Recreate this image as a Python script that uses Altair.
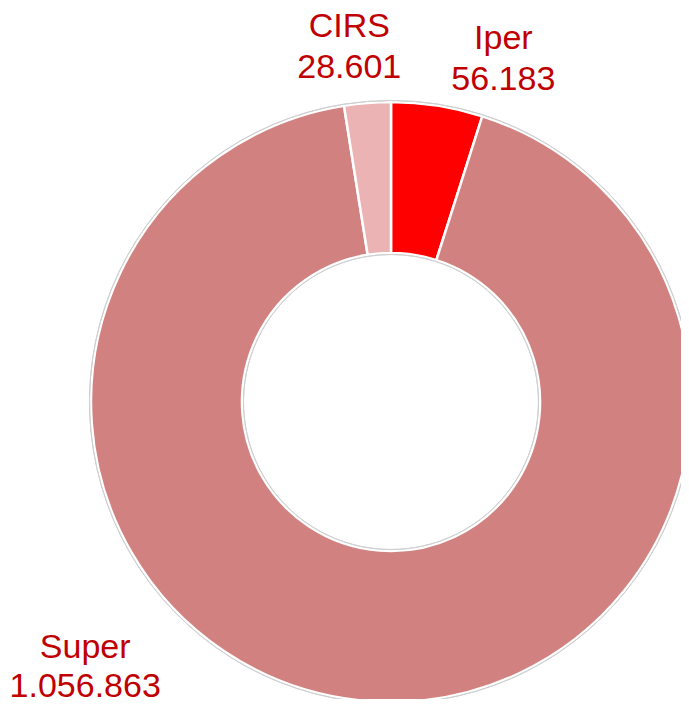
import altair as alt
import pandas as pd

categories = ["Iper", "Super", "CIRS"]
values = [56183, 1056863, 28601]
value_labels = ["56.183", "1.056.863", "28.601"]
colors = ["#FF0000", "#D18280", "#EBB3B3"]

df = pd.DataFrame({
    "cat": categories,
    "val": values,
    "order": list(range(len(categories))),
    "label": [f"{c}\n{v}" for c, v in zip(categories, value_labels)],
})

CX, CY = 383, 394
R_OUT, R_IN = 300, 149

base = alt.Chart(df).encode(
    theta=alt.Theta("val:Q", stack=True),
    order=alt.Order("order:Q"),
    x=alt.value(CX),
    y=alt.value(CY),
)

def ring_outline(r):
    return base.mark_arc(
        radius=r, radius2=r, fill=None, stroke="#cfcfcf", strokeWidth=1
    )

arcs = base.mark_arc(
    outerRadius=R_OUT, innerRadius=R_IN, stroke="white", strokeWidth=2.5
).encode(
    color=alt.Color("cat:N", scale=alt.Scale(domain=categories, range=colors), legend=None)
)

def label_layer(cat, dx, dy, lh=41):
    return base.mark_text(
        radius=340, fontSize=34, font="Liberation Sans", color="#C00000",
        lineBreak="\n", lineHeight=lh, align="center", baseline="middle",
        dx=dx, dy=dy,
    ).encode(
        text=alt.condition(alt.datum.cat == cat, alt.Text("label:N"), alt.value(""))
    )

labels = [
    label_layer("Iper", 60, -27),
    label_layer("CIRS", -15, -36),
    label_layer("Super", -280, -93, 39),
]

chart = alt.layer(arcs, ring_outline(R_OUT + 1.5), ring_outline(R_IN - 1.5), *labels).properties(
    width=673, height=691, padding=0, autosize="none", background="white"
).configure_view(stroke=None)

chart.save("out.html", embed_options={"renderer": "svg", "actions": False})
